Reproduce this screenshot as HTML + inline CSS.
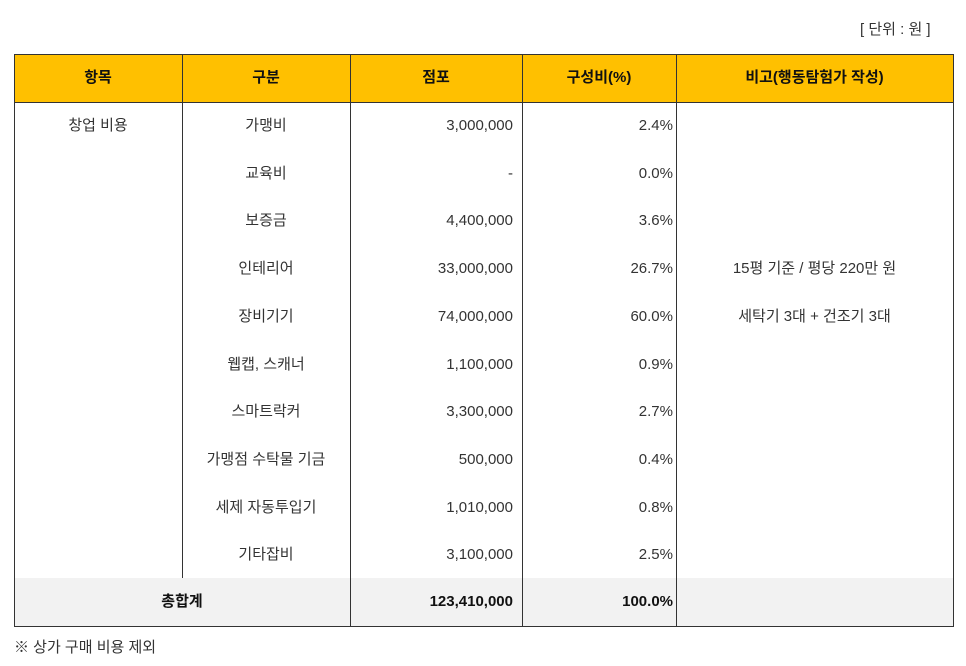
<!DOCTYPE html>
<html><head><meta charset="utf-8"><style>
body{margin:0;width:966px;height:666px;background:#fff;position:relative;font-family:"Liberation Sans","Noto Sans CJK KR",sans-serif;color:#333;overflow:hidden}
.a{position:absolute;font-size:15px;line-height:20px;white-space:nowrap}
.l{position:absolute;background:#333}
.c{text-align:center}.r{text-align:right}
.b{font-weight:bold;color:#111}
</style></head><body>
<div class="a" style="left:860px;top:20px">[ 단위 : 원 ]</div>
<div style="position:absolute;left:14px;top:55px;width:939px;height:47px;background:#ffc000"></div>
<div style="position:absolute;left:14px;top:578px;width:939px;height:48px;background:#f2f2f2"></div>
<div class="l" style="left:14px;top:54px;width:940px;height:1px"></div>
<div class="l" style="left:14px;top:102px;width:940px;height:1px"></div>
<div class="l" style="left:14px;top:626px;width:940px;height:1px"></div>
<div class="l" style="left:14px;top:54px;width:1px;height:573px"></div>
<div class="l" style="left:953px;top:54px;width:1px;height:573px"></div>
<div class="l" style="left:182px;top:54px;width:1px;height:524px"></div>
<div class="l" style="left:350px;top:54px;width:1px;height:573px"></div>
<div class="l" style="left:522px;top:54px;width:1px;height:573px"></div>
<div class="l" style="left:676px;top:54px;width:1px;height:573px"></div>
<div class="a c b" style="left:14px;width:168px;top:68px">항목</div>
<div class="a c b" style="left:182px;width:168px;top:68px">구분</div>
<div class="a c b" style="left:350px;width:172px;top:68px">점포</div>
<div class="a c b" style="left:522px;width:154px;top:68px">구성비(%)</div>
<div class="a c b" style="left:676px;width:277px;top:68px">비고(행동탐험가 작성)</div>
<div class="a c" style="left:14px;width:168px;top:116px">창업 비용</div>
<div id="rows"></div>
<div class="a c b" style="left:14px;width:336px;top:592px">총합계</div>
<div class="a r b" style="left:350px;width:163px;top:592px">123,410,000</div>
<div class="a r b" style="left:522px;width:151px;top:592px">100.0%</div>
<div class="a" style="left:14px;top:638px">※ 상가 구매 비용 제외</div>
<script>
const categories=["가맹비","교육비","보증금","인테리어","장비기기","웹캡, 스캐너","스마트락커","가맹점 수탁물 기금","세제 자동투입기","기타잡비"];
const amounts=["3,000,000","-","4,400,000","33,000,000","74,000,000","1,100,000","3,300,000","500,000","1,010,000","3,100,000"];
const ratios=["2.4%","0.0%","3.6%","26.7%","60.0%","0.9%","2.7%","0.4%","0.8%","2.5%"];
const notes=["","","","15평 기준 / 평당 220만 원","세탁기 3대 + 건조기 3대","","","","",""];
const root=document.body;
categories.forEach((c,i)=>{
  const top=116+i*47.7;
  const cells=[[c,"c",182,168,"row-category"],[amounts[i],"r",350,163,"row-amount"],[ratios[i],"r",522,151,"row-ratio"],[notes[i],"c",676,277,"row-note"]];
  cells.forEach(([t,cls,x,w,n])=>{
    if(!t)return;
    const d=document.createElement('div');
    d.className='a '+cls;
    d.style.left=x+'px';d.style.width=w+'px';d.style.top=top+'px';
    d.textContent=t;
    
    
    root.appendChild(d);
  });
});
</script>
</body></html>
